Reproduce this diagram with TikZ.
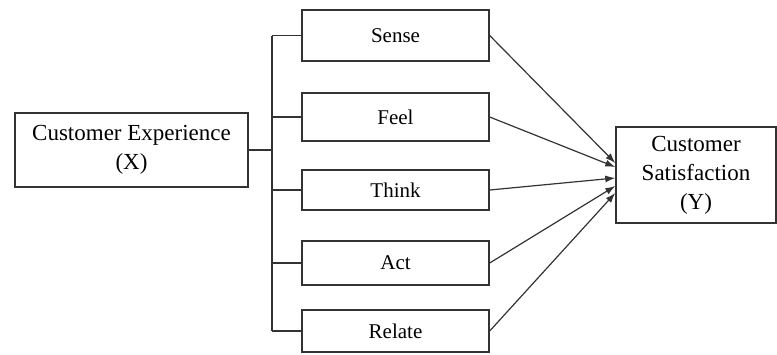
\documentclass[tikz,border=0pt]{standalone}
\usepackage{fontspec}
\setmainfont{Liberation Serif}
\usepackage{tikz}
\usetikzlibrary{arrows.meta}

\begin{document}
\begin{tikzpicture}[x=1pt,y=-1pt,
  box/.style={draw=black!80,line width=1.4pt,inner sep=0pt,align=center,font=\fontsize{23}{29}\selectfont},
  dim/.style={box,minimum width=187pt,font=\fontsize{21}{24}\selectfont},
  link/.style={draw=black!80,line width=1.2pt},
  arr/.style={-{Latex[length=10pt,width=7pt]},draw=black!80,line width=1.2pt}]
\useasboundingbox (0,0) rectangle (777,354);
\node[box,minimum width=233pt,minimum height=74pt] (cx) at (131.5,150) {Customer Experience\\(X)};
\node[dim,minimum height=51pt] (sense) at (395.5,35.5) {Sense};
\node[dim,minimum height=48pt] (feel) at (395.5,117) {Feel};
\node[dim,minimum height=40pt] (think) at (395.5,190) {Think};
\node[dim,minimum height=44pt] (act) at (395.5,263) {Act};
\node[dim,minimum height=42pt] (relate) at (395.5,331) {Relate};
\node[box,minimum width=160pt,minimum height=96pt] (cs) at (696,175) {Customer\\Satisfaction\\(Y)};
\coordinate (bus) at (272,150);
\draw[link] (cx.east) -- (bus);
\draw[link] (sense.west -| bus) -- (relate.west -| bus);
\foreach \n in {sense,feel,think,act,relate}
  \draw[link] (bus |- \n.west) -- (\n.west);
\draw[arr] (sense.east) -- ([yshift=12pt]cs.west);
\draw[arr] (feel.east) -- ([yshift=8pt]cs.west);
\draw[arr] (think.east) -- ([yshift=-3pt]cs.west);
\draw[arr] (act.east) -- ([yshift=-11pt]cs.west);
\draw[arr] (relate.east) -- ([yshift=-18pt]cs.west);
\end{tikzpicture}
\end{document}
